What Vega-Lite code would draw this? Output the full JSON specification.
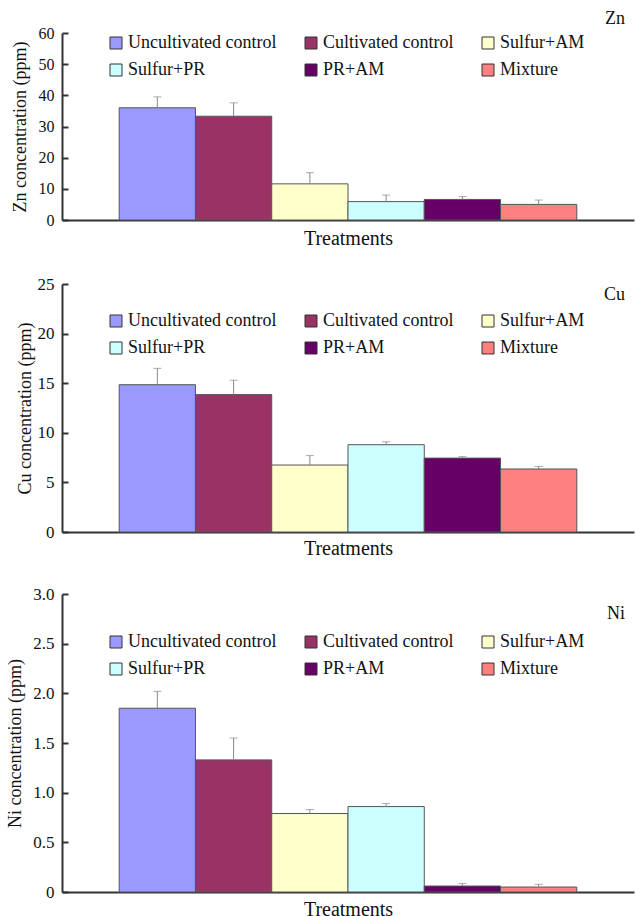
{
  "$schema": "https://vega.github.io/schema/vega-lite/v6.json",
  "background": "white",
  "padding": {"left": 6, "top": 10, "right": 1, "bottom": 0},
  "datasets": {
    "zn": [
      {"treatment": "Uncultivated control", "mean": 36.0, "upper": 39.5},
      {"treatment": "Cultivated control", "mean": 33.3, "upper": 37.6},
      {"treatment": "Sulfur+AM", "mean": 11.6, "upper": 15.2},
      {"treatment": "Sulfur+PR", "mean": 5.9, "upper": 8.0},
      {"treatment": "PR+AM", "mean": 6.6, "upper": 7.5},
      {"treatment": "Mixture", "mean": 5.0, "upper": 6.4}
    ],
    "cu": [
      {"treatment": "Uncultivated control", "mean": 14.85, "upper": 16.5},
      {"treatment": "Cultivated control", "mean": 13.85, "upper": 15.3},
      {"treatment": "Sulfur+AM", "mean": 6.75, "upper": 7.7},
      {"treatment": "Sulfur+PR", "mean": 8.8, "upper": 9.1},
      {"treatment": "PR+AM", "mean": 7.45, "upper": 7.6},
      {"treatment": "Mixture", "mean": 6.35, "upper": 6.6}
    ],
    "ni": [
      {"treatment": "Uncultivated control", "mean": 1.85, "upper": 2.02},
      {"treatment": "Cultivated control", "mean": 1.33, "upper": 1.55},
      {"treatment": "Sulfur+AM", "mean": 0.79, "upper": 0.83},
      {"treatment": "Sulfur+PR", "mean": 0.86, "upper": 0.89},
      {"treatment": "PR+AM", "mean": 0.06, "upper": 0.085},
      {"treatment": "Mixture", "mean": 0.05, "upper": 0.077}
    ]
  },
  "config": {
    "view": {"stroke": null},
    "font": "Liberation Serif",
    "style": {"guide-label": {"font": "Liberation Serif"}, "guide-title": {"font": "Liberation Serif"}, "group-title": {"font": "Liberation Serif"}},
    "axis": {"grid": false, "labelOverlap": false, "domainColor": "#333", "domainWidth": 2, "labelFont": "Liberation Serif", "labelFontSize": 17, "labelColor": "#111", "titleFont": "Liberation Serif", "titleFontSize": 18, "titleFontWeight": "normal", "titleColor": "#111", "tickColor": "#333", "tickWidth": 2},
    "legend": {"orient": "none", "columns": 3, "direction": "horizontal", "symbolType": "square", "symbolSize": 144, "symbolStrokeColor": "#333", "symbolStrokeWidth": 1, "symbolOpacity": 1, "labelFont": "Liberation Serif", "labelFontSize": 18, "labelColor": "#111", "labelOffset": 3, "columnPadding": 25, "rowPadding": 9, "padding": 0, "labelLimit": 300},
    "title": {"font": "Liberation Serif", "fontSize": 18, "fontWeight": "normal", "color": "#111", "anchor": "end", "frame": "group", "baseline": "alphabetic", "dx": -9}
  },
  "spacing": 27,
  "resolve": {"scale": {"color": "independent", "y": "independent"}, "legend": {"color": "independent"}},
  "vconcat": [
    {
      "width": 572, "height": 187,
      "data": {"name": "zn"},
      "title": {"text": "Zn", "offset": -3},
      "resolve": {"axis": {"y": "independent"}},
      "encoding": {
        "x": {"field": "treatment", "type": "nominal", "sort": ["Uncultivated control", "Cultivated control", "Sulfur+AM", "Sulfur+PR", "PR+AM", "Mixture"], "scale": {"paddingInner": 0, "paddingOuter": 0.75}, "axis": {"title": "Treatments", "labels": false, "ticks": false, "titlePadding": 8, "titleFont": "Liberation Serif", "titleFontSize": 20}}
      },
      "layer": [
        {"mark": {"type": "bar", "stroke": "#555", "strokeWidth": 1},
         "encoding": {
           "y": {"field": "mean", "type": "quantitative", "scale": {"domain": [0, 60], "nice": false}, "axis": {"title": "Zn concentration (ppm)", "values": [0, 10, 20, 30, 40, 50, 60], "tickCount": 7, "labelOverlap": false, "labelSeparation": 0, "tickSize": -6, "labelPadding": 14, "titlePadding": 9, "labelFont": "Liberation Serif", "labelFontSize": 16, "titleFont": "Liberation Serif"}},
           "color": {"field": "treatment", "type": "nominal", "scale": {"domain": ["Uncultivated control", "Cultivated control", "Sulfur+AM", "Sulfur+PR", "PR+AM", "Mixture"], "range": ["#9999FF", "#993366", "#FFFFCC", "#CCFFFF", "#660066", "#FF8080"]}, "legend": {"title": null, "legendX": 45, "legendY": 1, "labelFont": "Liberation Serif", "columns": 3, "direction": "horizontal"}}
         }},
        {"mark": {"type": "rule", "color": "#888", "strokeWidth": 1},
         "encoding": {"y": {"field": "mean", "type": "quantitative", "axis": null}, "y2": {"field": "upper"}}},
        {"mark": {"type": "tick", "color": "#888", "size": 8, "thickness": 1},
         "encoding": {"y": {"field": "upper", "type": "quantitative", "axis": null}}}
      ]
    },
    {
      "width": 572, "height": 248,
      "data": {"name": "cu"},
      "title": {"text": "Cu", "offset": -29},
      "resolve": {"axis": {"y": "independent"}},
      "encoding": {
        "x": {"field": "treatment", "type": "nominal", "sort": ["Uncultivated control", "Cultivated control", "Sulfur+AM", "Sulfur+PR", "PR+AM", "Mixture"], "scale": {"paddingInner": 0, "paddingOuter": 0.75}, "axis": {"title": "Treatments", "labels": false, "ticks": false, "titlePadding": 6, "titleFont": "Liberation Serif", "titleFontSize": 20}}
      },
      "layer": [
        {"mark": {"type": "bar", "stroke": "#555", "strokeWidth": 1},
         "encoding": {
           "y": {"field": "mean", "type": "quantitative", "scale": {"domain": [0, 25], "nice": false}, "axis": {"title": "Cu concentration (ppm)", "values": [0, 5, 10, 15, 20, 25], "labelOverlap": false, "tickSize": -6, "labelPadding": 14, "titlePadding": 3, "labelFont": "Liberation Serif", "titleFont": "Liberation Serif"}},
           "color": {"field": "treatment", "type": "nominal", "scale": {"domain": ["Uncultivated control", "Cultivated control", "Sulfur+AM", "Sulfur+PR", "PR+AM", "Mixture"], "range": ["#9999FF", "#993366", "#FFFFCC", "#CCFFFF", "#660066", "#FF8080"]}, "legend": {"title": null, "legendX": 45, "legendY": 28, "labelFont": "Liberation Serif", "columns": 3, "direction": "horizontal"}}
         }},
        {"mark": {"type": "rule", "color": "#888", "strokeWidth": 1},
         "encoding": {"y": {"field": "mean", "type": "quantitative", "axis": null}, "y2": {"field": "upper"}}},
        {"mark": {"type": "tick", "color": "#888", "size": 8, "thickness": 1},
         "encoding": {"y": {"field": "upper", "type": "quantitative", "axis": null}}}
      ]
    },
    {
      "width": 572, "height": 298,
      "data": {"name": "ni"},
      "title": {"text": "Ni", "offset": -38},
      "resolve": {"axis": {"y": "independent"}},
      "encoding": {
        "x": {"field": "treatment", "type": "nominal", "sort": ["Uncultivated control", "Cultivated control", "Sulfur+AM", "Sulfur+PR", "PR+AM", "Mixture"], "scale": {"paddingInner": 0, "paddingOuter": 0.75}, "axis": {"title": "Treatments", "labels": false, "ticks": false, "titlePadding": 7, "titleFont": "Liberation Serif", "titleFontSize": 20}}
      },
      "layer": [
        {"mark": {"type": "bar", "stroke": "#555", "strokeWidth": 1},
         "encoding": {
           "y": {"field": "mean", "type": "quantitative", "scale": {"domain": [0, 3], "nice": false}, "axis": {"title": "Ni concentration (ppm)", "values": [0, 0.5, 1, 1.5, 2, 2.5, 3], "labelOverlap": false, "labelExpr": "datum.value == 0 ? '0' : format(datum.value, '.1f')", "tickSize": -6, "labelPadding": 14, "titlePadding": 8, "labelFont": "Liberation Serif", "titleFont": "Liberation Serif"}},
           "color": {"field": "treatment", "type": "nominal", "scale": {"domain": ["Uncultivated control", "Cultivated control", "Sulfur+AM", "Sulfur+PR", "PR+AM", "Mixture"], "range": ["#9999FF", "#993366", "#FFFFCC", "#CCFFFF", "#660066", "#FF8080"]}, "legend": {"title": null, "legendX": 45, "legendY": 39, "labelFont": "Liberation Serif", "columns": 3, "direction": "horizontal"}}
         }},
        {"mark": {"type": "rule", "color": "#888", "strokeWidth": 1},
         "encoding": {"y": {"field": "mean", "type": "quantitative", "axis": null}, "y2": {"field": "upper"}}},
        {"mark": {"type": "tick", "color": "#888", "size": 8, "thickness": 1},
         "encoding": {"y": {"field": "upper", "type": "quantitative", "axis": null}}}
      ]
    }
  ]
}
